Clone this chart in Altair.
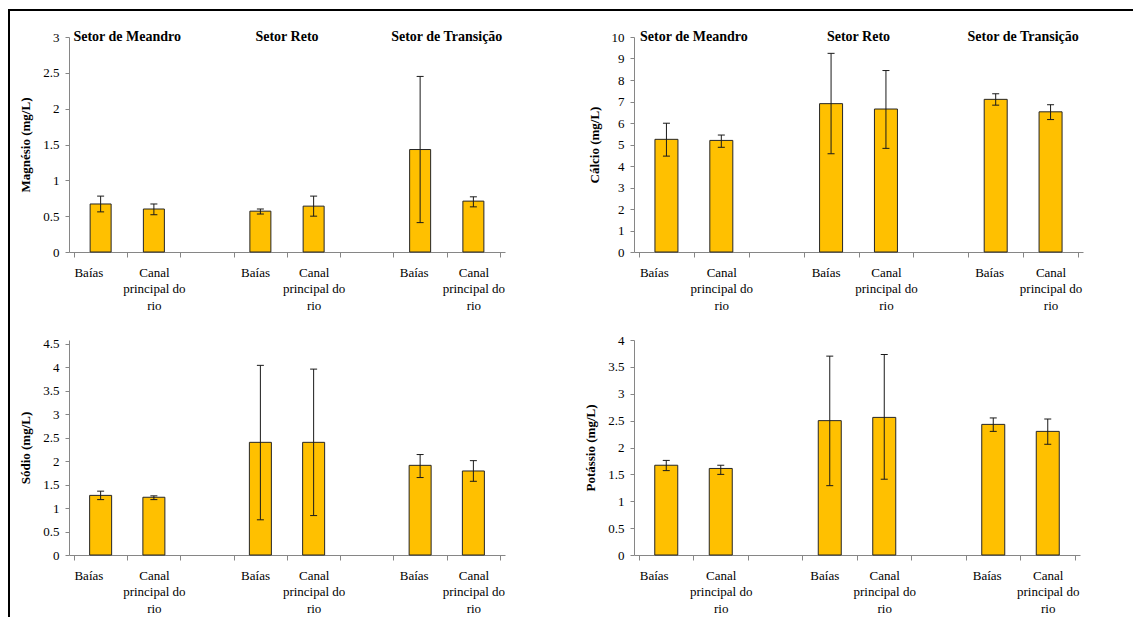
import altair as alt
import pandas as pd

setores = ["Setor  de Meandro", "Setor  Reto", "Setor  de Transição"]
locais = ["Baías", "Canal principal do rio"]
local_lines = [["Baías"], ["Canal", "principal do", "rio"]]

mg_mean = [0.67, 0.60, 0.57, 0.64, 1.43, 0.71]
mg_lo = [0.56, 0.52, 0.53, 0.50, 0.41, 0.63]
mg_hi = [0.78, 0.67, 0.60, 0.78, 2.45, 0.77]

ca_mean = [5.24, 5.19, 6.90, 6.65, 7.10, 6.52]
ca_lo = [4.46, 4.87, 4.57, 4.82, 6.83, 6.16]
ca_hi = [5.99, 5.44, 9.24, 8.44, 7.36, 6.85]

na_mean = [1.27, 1.23, 2.40, 2.40, 1.91, 1.79]
na_lo = [1.18, 1.18, 0.75, 0.84, 1.65, 1.57]
na_hi = [1.36, 1.26, 4.04, 3.96, 2.14, 2.01]

k_mean = [1.67, 1.61, 2.50, 2.56, 2.43, 2.30]
k_lo = [1.57, 1.50, 1.29, 1.41, 2.30, 2.06]
k_hi = [1.76, 1.67, 3.70, 3.73, 2.55, 2.53]

FONT = "Liberation Serif"
GOLD = "#FFC000"
AXIS_GRAY = "#868686"
INK = "#1a1a1a"

# category slots: 3 groups of (Baías, Canal, empty)
setor_col, local_col, pos_col = [], [], []
for g, s in enumerate(setores):
    for c, l in enumerate(locais):
        setor_col.append(s)
        local_col.append(l)
        pos_col.append(3 * g + c + 0.5)

# label anchor positions along x (Excel placement of wrapped labels)
baias_pos = [0.27, 3.4, 6.38]
canal_pos = [1.5, 4.5, 7.5]
boundaries = list(range(0, 9))
x_values = sorted(boundaries + baias_pos + canal_pos)

label_expr = (
    "indexof(" + str(baias_pos) + ", datum.value) >= 0 ? '" + local_lines[0][0] + "'"
    " : (indexof(" + str(canal_pos) + ", datum.value) >= 0 ? " + str(local_lines[1]) + " : '')"
)


def panel(title, mean, lo, hi, ymax, ystep, w, h, bar_w, show_setor, dom_max=None, frame=False):
    df = pd.DataFrame({"setor": setor_col, "local": local_col, "pos": pos_col,
                       "mean": mean, "lo": lo, "hi": hi})
    n = int(round(ymax / ystep))
    yvals = [round(i * ystep, 2) for i in range(n + 1)]
    xs = alt.Scale(domain=[0, 8], nice=False, zero=False)
    ys = alt.Scale(domain=[0, dom_max if dom_max else ymax], nice=False, zero=True)
    xaxis = alt.Axis(values=x_values, labelExpr=label_expr, title=None,
                     tickOpacity={"condition": {"test": "datum.value % 1 != 0", "value": 0}, "value": 1},
                     tickSize=5, tickColor=AXIS_GRAY, domainColor=AXIS_GRAY,
                     labelFont=FONT, labelFontSize=13, labelColor="#000", labelLineHeight=16.5,
                     labelPadding=9, labelAngle=0, labelAlign="center", labelBaseline="top",
                     grid=False, labelOverlap=False, labelFlush=False)
    yaxis = alt.Axis(values=yvals, labelExpr="'' + datum.value", title=title, grid=False,
                     tickSize=4, tickColor=AXIS_GRAY, domainColor=AXIS_GRAY,
                     labelFont=FONT, labelFontSize=13, labelColor="#000", labelPadding=6,
                     titleFont=FONT, titleFontSize=13, titleFontWeight="bold", titleColor="#000",
                     titlePadding=10, labelOverlap=False, labelFlush=False)

    def X(field):
        return alt.X(field, type="quantitative", scale=xs, axis=xaxis)

    def Y(field):
        return alt.Y(field, type="quantitative", scale=ys, axis=yaxis)

    base = alt.Chart(df)
    bars = base.mark_bar(size=bar_w, color=GOLD, stroke="#262626", strokeWidth=1).encode(
        x=X("pos"), y=Y("mean"))
    rule = base.mark_rule(color=INK, strokeWidth=1).encode(
        x=X("pos"), y=Y("lo"), y2="hi")
    cap_hi = base.mark_tick(orient="horizontal", size=7, thickness=1, color=INK, opacity=1).encode(
        x=X("pos"), y=Y("hi"))
    cap_lo = base.mark_tick(orient="horizontal", size=7, thickness=1, color=INK, opacity=1).encode(
        x=X("pos"), y=Y("lo"))
    layers = [bars, rule, cap_hi, cap_lo]
    if show_setor:
        tdf = pd.DataFrame({"setor": setores, "x": [1, 4, 7], "y": [ymax] * 3})
        titles = alt.Chart(tdf).mark_text(font=FONT, fontSize=14, fontWeight="bold",
                                          color="#000", baseline="middle", dy=0).encode(
            x=X("x"), y=Y("y"), text="setor:N")
        layers.append(titles)
    if frame:
        fdf = pd.DataFrame({"k": [0]})
        top_line = alt.Chart(fdf).mark_rule(color="#000", strokeWidth=2).encode(
            x=alt.value(-60), x2=alt.value(1064), y=alt.value(-27))
        left_line = alt.Chart(fdf).mark_rule(color="#000", strokeWidth=2).encode(
            x=alt.value(-60), y=alt.value(-28), y2=alt.value(580))
        layers += [top_line, left_line]
    return alt.layer(*layers).properties(width=w, height=h)


p1 = panel("Magnésio (mg/L)", mg_mean, mg_lo, mg_hi, 3, 0.5, 436, 215, 21, True, frame=True)
p2 = panel("Cálcio (mg/L)", ca_mean, ca_lo, ca_hi, 10, 1, 449, 215, 23, True)
p3 = panel("Sódio (mg/L)", na_mean, na_lo, na_hi, 4.5, 0.5, 436, 215, 22, False, dom_max=4.58)
p4 = panel("Potássio (mg/L)", k_mean, k_lo, k_hi, 4, 0.5, 446, 215, 23, False)

chart = alt.concat(p1, p2, p3, p4, columns=2, spacing=alt.RowColnumber(row=88, column=129),
                   bounds="flush").properties(
    padding={"left": 0, "top": 0, "right": 0, "bottom": 0},
    background="white",
).configure_view(stroke=None)

chart.save("out.html", embed_options={"renderer": "svg", "actions": False})
